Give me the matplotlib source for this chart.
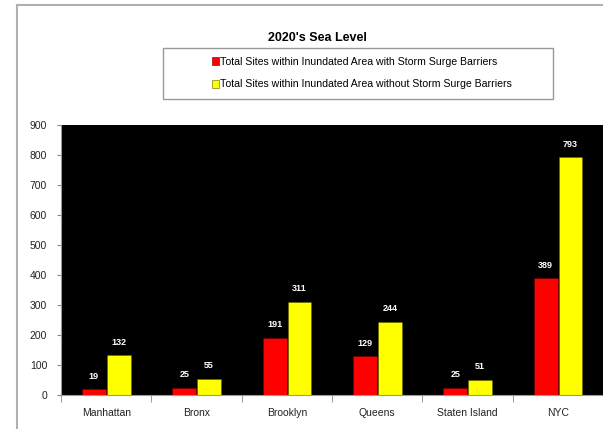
import matplotlib.pyplot as plt
from matplotlib.patches import Rectangle
from matplotlib.lines import Line2D
import numpy as np

boroughs = ["Manhattan", "Bronx", "Brooklyn", "Queens", "Staten Island", "NYC"]
with_barriers = [19, 25, 191, 129, 25, 389]
without_barriers = [132, 55, 311, 244, 51, 793]
series_names = ["Total Sites within Inundated Area with Storm Surge Barriers",
                "Total Sites within Inundated Area without Storm Surge Barriers"]
yticks = [0, 100, 200, 300, 400, 500, 600, 700, 800, 900]

plt.rcParams['font.family'] = ['Liberation Sans', 'DejaVu Sans']

W, H = 603, 429
fig = plt.figure(figsize=(W / 100, H / 100), dpi=100)

# outer chart frame (top and left edges visible)
fig.add_artist(Line2D([17 / W, 1], [1 - 5 / H, 1 - 5 / H], color="#b0b0b0", lw=1.5))
fig.add_artist(Line2D([17 / W, 17 / W], [0, 1 - 5 / H], color="#b0b0b0", lw=1.5))

ax = fig.add_axes([61 / W, (H - 395) / H, (W - 61) / W, (395 - 125) / H])
ax.set_facecolor("black")

x = np.arange(len(boroughs))
w = 0.265
b1 = ax.bar(x - 0.135, with_barriers, w, color="#ff0000", edgecolor="#600000", linewidth=0.4,
            label=series_names[0])
b2 = ax.bar(x + 0.14, without_barriers, w, color="#ffff00", edgecolor="#606000", linewidth=0.4,
            label=series_names[1])

for bars, vals in [(b1, with_barriers), (b2, without_barriers)]:
    for r, v in zip(bars, vals):
        ax.annotate(str(v), (r.get_x() + r.get_width() / 2, v), xytext=(0, 6),
                    textcoords="offset points", ha="center", va="bottom",
                    color="white", fontsize=6.5, fontweight="bold")

ax.set_xlim(-0.5, len(boroughs) - 0.5)
ax.set_ylim(0, 900)
ax.set_yticks(yticks)
ax.set_yticklabels([str(t) for t in yticks], fontsize=7.5, color="#222222")
ax.set_xticks(x)
ax.set_xticklabels(boroughs, fontsize=7.5, color="#222222")
ax.tick_params(axis="x", length=0, pad=9)
ax.tick_params(axis="y", length=3, color="#888888", pad=7)
ax.set_xticks(np.arange(len(boroughs) + 1) - 0.5, minor=True)
ax.tick_params(axis="x", which="minor", length=5, color="#888888")
for s in ["top", "right"]:
    ax.spines[s].set_visible(False)
ax.spines["bottom"].set_color("#999999")
ax.spines["left"].set_color("#999999")

# title and legend
fig.text(317 / W, 1 - 38 / H, "2020's Sea Level", ha="center", va="center",
         fontsize=9, fontweight="bold")
fig.add_artist(Rectangle((163 / W, 1 - 99 / H), (553 - 163) / W, (99 - 48) / H,
                         transform=fig.transFigure, fill=False, edgecolor="#999999", lw=1))
fig.legend(handles=[b1, b2], loc="center left", bbox_to_anchor=(207 / W, 1 - 73 / H),
           frameon=False, fontsize=7.6, handlelength=0.6, handleheight=0.8,
           handletextpad=0.15, labelspacing=1.2, borderpad=0)

fig.savefig("out.png", dpi=100)
